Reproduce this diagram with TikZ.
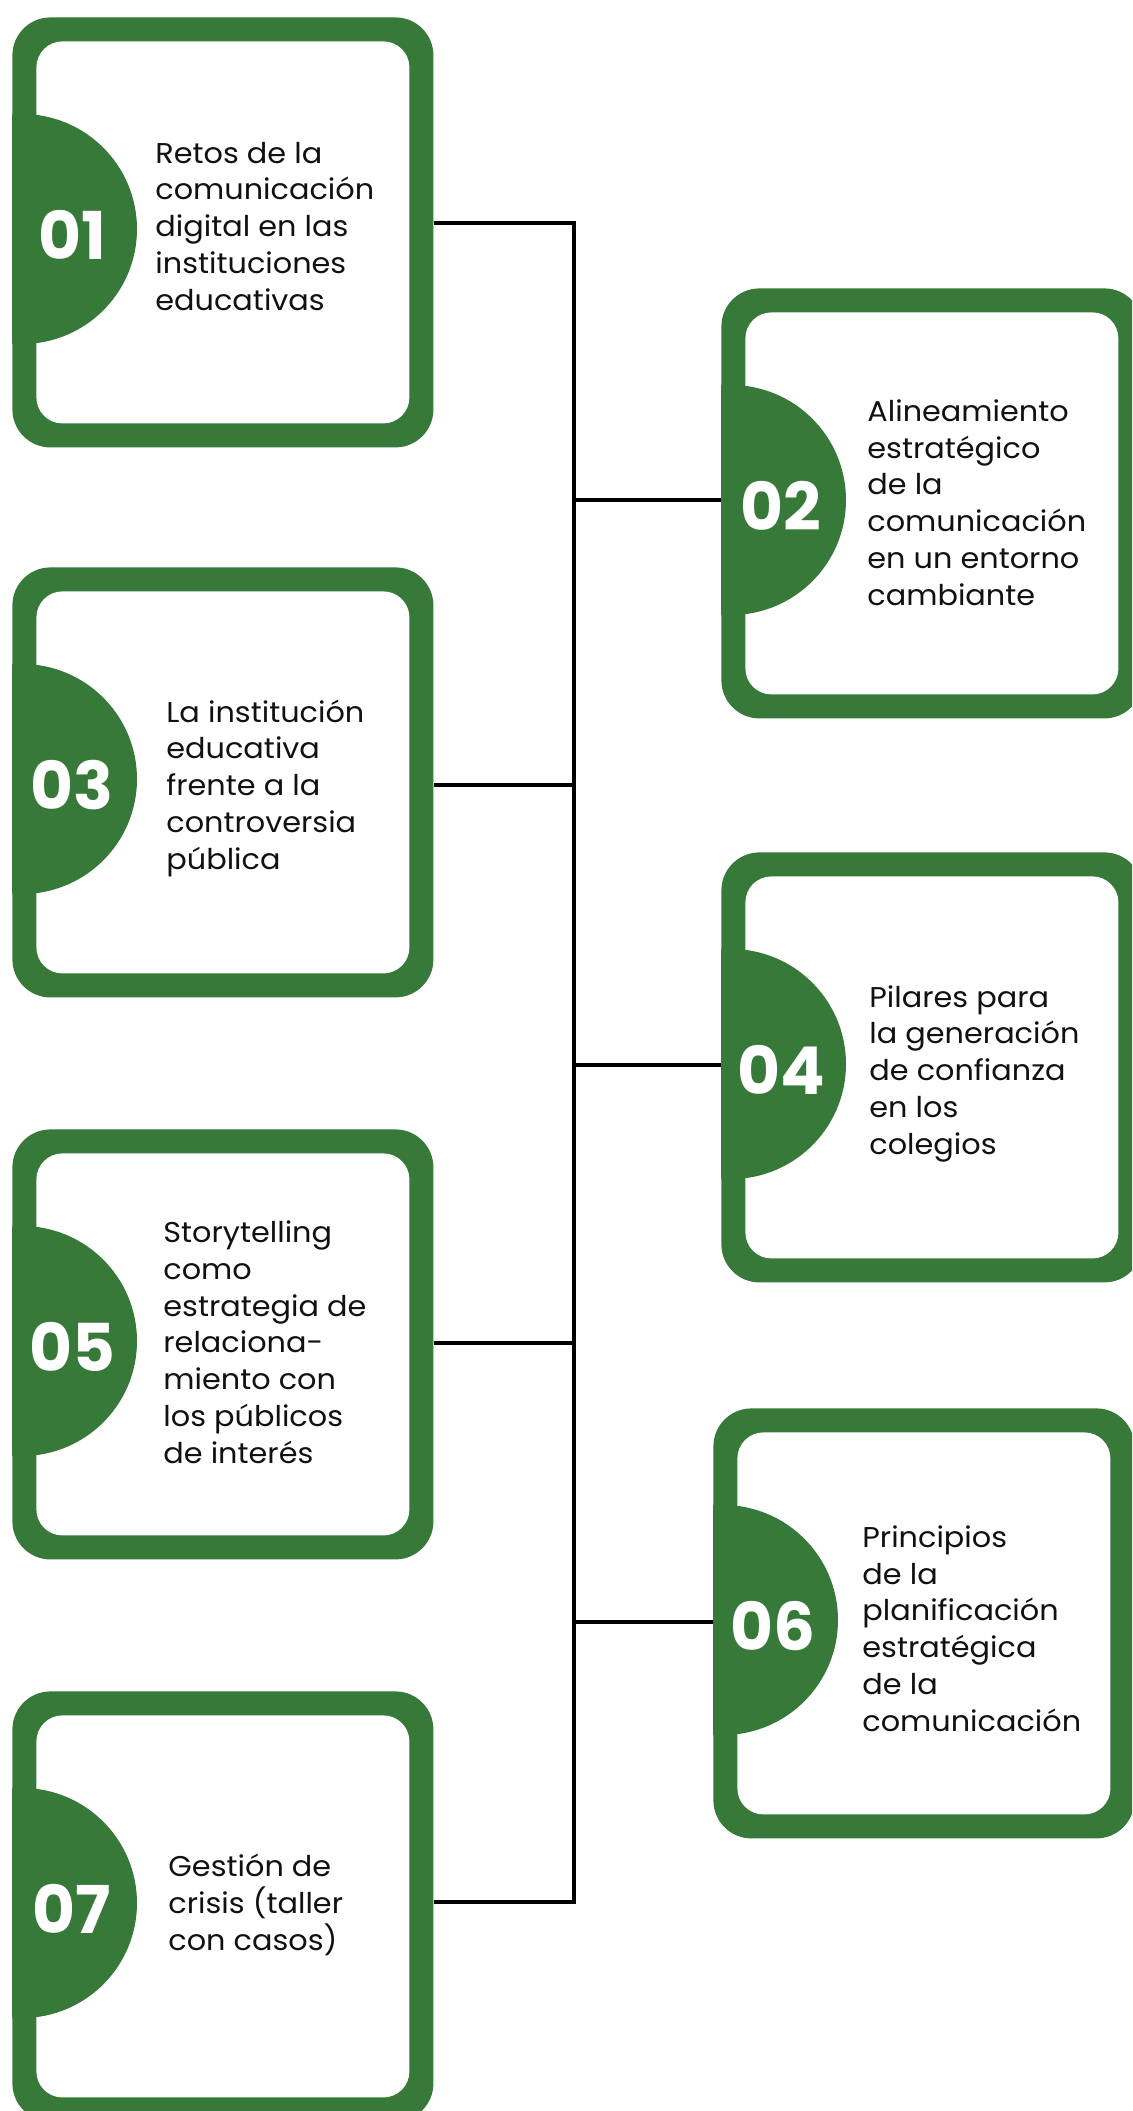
\documentclass[tikz,border=0pt]{standalone}
\usepackage{fontspec}
\setmainfont{Poppins}[Ligatures=NoCommon]
\newfontfamily\bodyfont{Poppins}[Ligatures=NoCommon, FakeStretch=1.06]
\usetikzlibrary{calc}
\definecolor{grn}{RGB}{54,121,56}
\definecolor{ink}{RGB}{17,17,17}
\tikzset{
  outerbox/.style={fill=grn, rounded corners=19pt, minimum width=210.5pt, minimum height=215pt, inner sep=0pt, anchor=north west},
  innerbox/.style={fill=white, rounded corners=13pt, minimum width=186.5pt, minimum height=191pt, inner sep=0pt},
  numtext/.style={text=white, font=\fontsize{33}{33}\selectfont\bfseries, inner sep=0pt},
  bodytext/.style={text=ink, font=\bodyfont\fontsize{14.3}{18.35}\selectfont, align=left, inner sep=0pt, anchor=base west},
  link/.style={draw=black, line width=1.75pt, line join=miter},
}
% #5 text x offset, #6 baseline offset of the LAST line
\newcommand\topicbox[7]{%
  \node[outerbox] (#1) at (#2,#3) {};
  \node[innerbox] (#1in) at (#1.center) {};
  \begin{scope}
    \clip (#1.north west) rectangle (#1.south east);
    \fill[grn] ($(#2,#3)+(10,212)$) circle[radius=57.5pt];
  \end{scope}
  \node[numtext] (#1num) at ($(#2,#3)+(60,218)$) {#4};
  \node[bodytext] (#1txt) at ($(#2,#3)+(#5,#6)$) {#7};
}
\begin{document}
\begin{tikzpicture}[x=0.5pt,y=-0.5pt]
\useasboundingbox (0,0) rectangle (1132,2111);
\clip (0,0) rectangle (1132,2111);
\fill[white] (0,0) rectangle (1132,2111);

\topicbox{b1}{12}{17}{01}{143}{293}{Retos de la\\comunicación\\digital en las\\instituciones\\educativas}
\topicbox{b2}{721}{288}{02}{146}{317}{Alineamiento\\estratégico\\de la\\comunicación\\en un entorno\\cambiante}
\topicbox{b3}{12}{567}{03}{154}{302}{La institución\\educativa\\frente a la\\controversia\\pública}
\topicbox{b4}{721}{852}{04}{148}{302}{Pilares para\\la generación\\de confianza\\en los\\colegios}
\topicbox{b5}{12}{1129}{05}{151}{334}{Storytelling\\como\\estrategia de\\relaciona-\\miento con\\los públicos\\de interés}
\topicbox{b6}{713}{1408}{06}{149}{323}{Principios\\de la\\planificación\\estratégica\\de la\\comunicación}
\topicbox{b7}{12}{1691}{07}{156}{259}{Gestión de\\crisis (taller\\con casos)}

\coordinate (j1) at (574,223);
\coordinate (j2) at (574,500);
\coordinate (j3) at (574,785);
\coordinate (j4) at (574,1065);
\coordinate (j5) at (574,1343);
\coordinate (j6) at (574,1622);
\coordinate (j7) at (574,1902);

\draw[link] (b1.east |- j1) -- (j1) -- (j7) -- (b7.east |- j7);
\draw[link] (j2) -- (j2 -| b2.west);
\draw[link] (j3) -- (j3 -| b3.east);
\draw[link] (j4) -- (j4 -| b4.west);
\draw[link] (j5) -- (j5 -| b5.east);
\draw[link] (j6) -- (j6 -| b6.west);
\end{tikzpicture}
\end{document}
